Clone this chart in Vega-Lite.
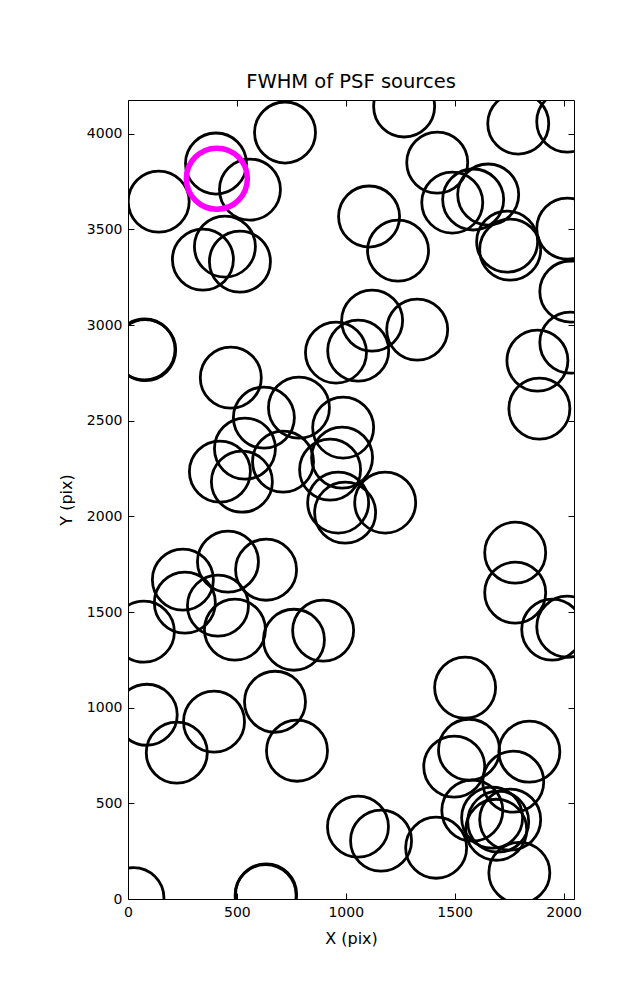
{
  "$schema": "https://vega.github.io/schema/vega-lite/v6.json",
  "width": 446,
  "height": 799,
  "autosize": "none",
  "padding": {"left": 128, "top": 100, "right": 63, "bottom": 101},
  "background": "white",
  "title": {"text": "FWHM of PSF sources", "fontSize": 19.5, "font": "DejaVu Sans", "fontWeight": "normal", "offset": 7, "color": "black"},
  "config": {
    "view": {"stroke": "black", "strokeWidth": 1},
    "axis": {"domain": false, "grid": false, "tickColor": "black", "tickSize": -6, "tickWidth": 1, "labelFont": "DejaVu Sans", "labelFontSize": 14, "labelColor": "black", "labelFlush": false, "format": "d", "titleFont": "DejaVu Sans", "titleFontSize": 16, "titleFontWeight": "normal", "titleColor": "black"}
  },
  "datasets": {
    "sources": [
      {"x":404,"y":3844},{"x":141,"y":3645},{"x":560,"y":3708},{"x":721,"y":4006},{"x":445,"y":3410},{"x":344,"y":3342},{"x":514,"y":3331},{"x":76,"y":2872},{"x":79,"y":2869},{"x":472,"y":2725},
      {"x":1268,"y":4142},{"x":1792,"y":4053},{"x":2017,"y":4063},{"x":1420,"y":3849},{"x":1654,"y":3682},{"x":1585,"y":3656},{"x":1489,"y":3640},{"x":1741,"y":3436},{"x":1755,"y":3394},{"x":2017,"y":3504},
      {"x":1107,"y":3567},{"x":1240,"y":3389},{"x":1121,"y":3023},{"x":1328,"y":2976},{"x":2031,"y":3175},{"x":2031,"y":2908},{"x":1880,"y":2814},{"x":955,"y":2856},{"x":1057,"y":2866},{"x":624,"y":2516},
      {"x":785,"y":2568},{"x":537,"y":2354},{"x":712,"y":2286},{"x":422,"y":2234},{"x":523,"y":2181},{"x":988,"y":2464},{"x":983,"y":2307},{"x":928,"y":2244},{"x":965,"y":2072},{"x":997,"y":2019},
      {"x":1181,"y":2072},{"x":1889,"y":2563},{"x":1778,"y":1810},{"x":1778,"y":1601},{"x":1948,"y":1408},{"x":2017,"y":1423},{"x":252,"y":1669},{"x":261,"y":1549},{"x":459,"y":1763},{"x":413,"y":1533},
      {"x":634,"y":1721},{"x":73,"y":1397},{"x":491,"y":1408},{"x":762,"y":1355},{"x":896,"y":1403},{"x":86,"y":963},{"x":224,"y":765},{"x":395,"y":927},{"x":675,"y":1031},{"x":776,"y":775},
      {"x":1056,"y":378},{"x":1162,"y":305},{"x":1415,"y":268},{"x":1548,"y":1105},{"x":1566,"y":780},{"x":1498,"y":692},{"x":1843,"y":770},{"x":1769,"y":613},{"x":1581,"y":462},{"x":1672,"y":425},
      {"x":1700,"y":404},{"x":1755,"y":415},{"x":1691,"y":362},{"x":1797,"y":137},{"x":25,"y":5},{"x":634,"y":24},{"x":632,"y":20}
    ],
    "target": [{"x":408,"y":3765}]
  },
  "layer": [
    {
      "data": {"name": "sources"},
      "mark": {"type": "point", "shape": "circle", "filled": false, "size": 3721, "strokeWidth": 2.8, "color": "black", "opacity": 1, "clip": true},
      "encoding": {
        "x": {"field": "x", "type": "quantitative", "scale": {"domain": [0, 2048], "nice": false, "zero": false}, "axis": {"orient": "bottom", "values": [0, 500, 1000, 1500, 2000], "title": "X (pix)", "labelPadding": 12, "titleY": 31}},
        "y": {"field": "y", "type": "quantitative", "scale": {"domain": [0, 4176], "nice": false, "zero": false}, "axis": {"orient": "left", "values": [0, 500, 1000, 1500, 2000, 2500, 3000, 3500, 4000], "title": "Y (pix)", "labelPadding": 12, "titlePadding": 12}}
      }
    },
    {
      "data": {"name": "target"},
      "mark": {"type": "point", "shape": "circle", "filled": false, "size": 3721, "strokeWidth": 5.5, "color": "#ff00ff", "opacity": 1, "clip": true},
      "encoding": {
        "x": {"field": "x", "type": "quantitative", "scale": {"domain": [0, 2048], "nice": false, "zero": false}, "axis": {"orient": "top", "values": [0, 500, 1000, 1500, 2000], "labels": false, "title": null}},
        "y": {"field": "y", "type": "quantitative", "scale": {"domain": [0, 4176], "nice": false, "zero": false}, "axis": {"orient": "right", "values": [0, 500, 1000, 1500, 2000, 2500, 3000, 3500, 4000], "labels": false, "title": null}}
      }
    }
  ],
  "resolve": {"axis": {"x": "independent", "y": "independent"}}
}
